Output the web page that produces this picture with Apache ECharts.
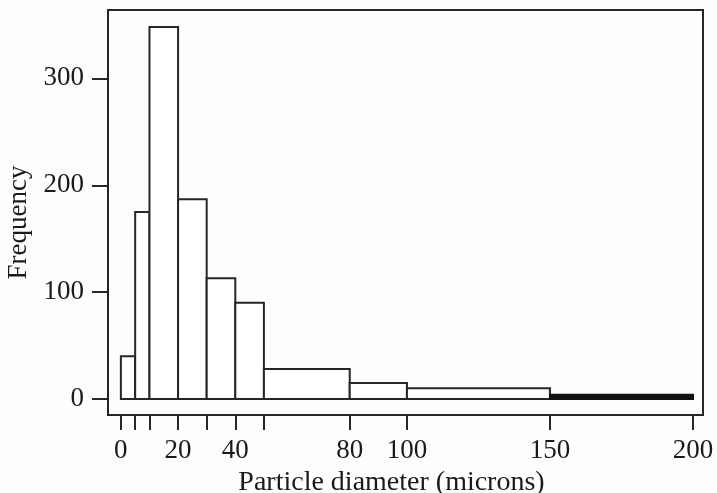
<!DOCTYPE html>
<html>
<head>
<meta charset="utf-8">
<script src="https://cdn.jsdelivr.net/npm/echarts@6/dist/echarts.min.js"></script>
<style>html,body{margin:0;padding:0;background:#fdfdfd}#c{width:717px;height:493px}</style>
</head>
<body>
<div id="c"></div>
<script>
var binStarts = [0, 5, 10, 20, 30, 40, 50, 80, 100, 150];
var binEnds   = [5, 10, 20, 30, 40, 50, 80, 100, 150, 200];
var counts    = [40, 175, 348, 187, 113, 90, 28, 15, 10, 4];
var xTickValues = [0, 5, 10, 20, 30, 40, 50, 80, 100, 150, 200];
var xLabelValues = [0, 20, 40, 80, 100, 150, 200];
var yTickValues = [0, 100, 200, 300];

var data = binStarts.map(function (s, i) { return [s, binEnds[i], counts[i]]; });
var font = 'Liberation Serif';
var ink = '#262626';
var chart = echarts.init(document.getElementById('c'));
chart.setOption({
  animation: false,
  backgroundColor: '#fdfdfd',
  grid: { left: 108, right: 14, top: 10, bottom: 78, show: true, borderColor: ink, borderWidth: 2, backgroundColor: 'transparent', containLabel: false, outerBoundsMode: 'none' },
  xAxis: {
    type: 'value', min: -4.5, max: 203.5,
    splitLine: { show: false },
    axisLine: { show: false, onZero: false },
    axisTick: { show: true, length: 15, inside: false, customValues: xTickValues, lineStyle: { color: ink, width: 2 } },
    axisLabel: { customValues: xLabelValues, margin: 22, color: '#1a1a1a', fontFamily: font, fontSize: 27 },
    name: 'Particle diameter (microns)', nameLocation: 'middle', nameGap: 50,
    nameTextStyle: { fontFamily: font, fontSize: 28, color: '#1a1a1a', padding: [0, 28, 0, 0] }
  },
  yAxis: {
    type: 'value', min: -15, max: 364,
    splitLine: { show: false },
    axisLine: { show: false, onZero: false },
    axisTick: { show: true, length: 16, customValues: yTickValues, lineStyle: { color: ink, width: 2 } },
    axisLabel: { customValues: yTickValues, margin: 24, color: '#1a1a1a', fontFamily: font, fontSize: 27 },
    name: 'Frequency', nameLocation: 'middle', nameGap: 71,
    nameTextStyle: { fontFamily: font, fontSize: 27, color: '#1a1a1a', padding: [0, 0, 0, -20] }
  },
  series: [{
    type: 'custom',
    data: data,
    encode: { x: [0, 1], y: 2 },
    renderItem: function (params, api) {
      var p0 = api.coord([api.value(0), api.value(2)]);
      var p1 = api.coord([api.value(1), 0]);
      var h = p1[1] - p0[1];
      return {
        type: 'rect',
        shape: { x: p0[0], y: p0[1], width: p1[0] - p0[0], height: h },
        style: { fill: h < 6 ? '#111111' : '#ffffff', stroke: h < 6 ? '#111111' : ink, lineWidth: 2 }
      };
    }
  }]
});
</script>
</body>
</html>
